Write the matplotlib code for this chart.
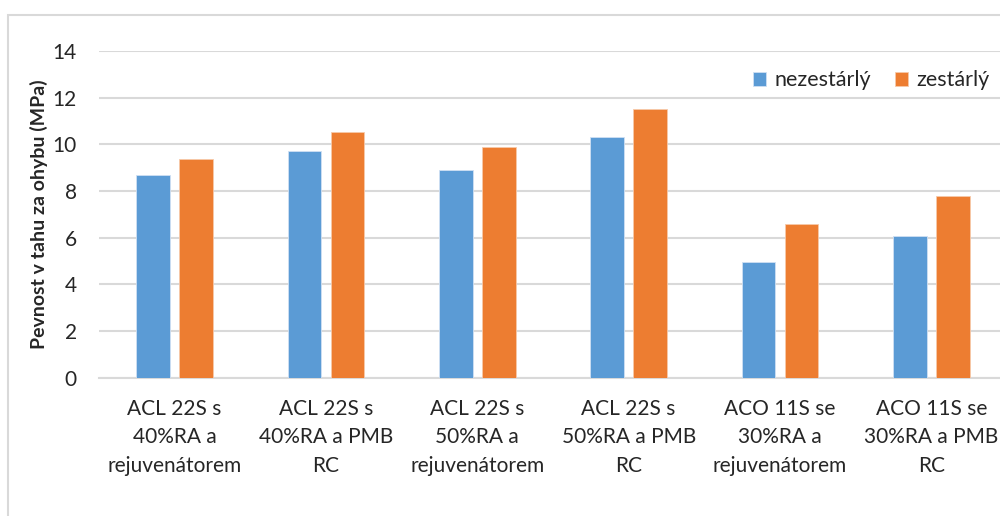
import numpy as np
import matplotlib
matplotlib.use("Agg")
import matplotlib.pyplot as plt
from matplotlib.patches import Rectangle

categories = [
    "ACL 22S s\n40%RA a\nrejuvenátorem",
    "ACL 22S s\n40%RA a PMB\nRC",
    "ACL 22S s\n50%RA a\nrejuvenátorem",
    "ACL 22S s\n50%RA a PMB\nRC",
    "ACO 11S se\n30%RA a\nrejuvenátorem",
    "ACO 11S se\n30%RA a PMB\nRC",
]
nezestarly = [8.67, 9.72, 8.90, 10.30, 4.97, 6.07]
zestarly = [9.37, 10.52, 9.90, 11.52, 6.59, 7.77]
series_names = ["nezestárlý", "zestárlý"]
yticks = [0, 2, 4, 6, 8, 10, 12, 14]

BLUE = "#5b9bd5"
ORANGE = "#ed7d31"
GRID = "#d9d9d9"
TXT = "#262626"

plt.rcParams["font.family"] = ["Lato", "DejaVu Sans"]

fig = plt.figure(figsize=(10, 5.16), dpi=100)
# outer chart frame (runs off the right and bottom edges)
fig.patches.append(Rectangle((0.008, -0.05), 1.2, 1.021,
                             transform=fig.transFigure, fill=False,
                             ec=GRID, lw=1.5))

ax = fig.add_axes([0.099, 0.268, 0.908, 0.633])
x = np.arange(len(categories))
w = 0.223
off = 0.142
ax.bar(x - off, nezestarly, w, color=BLUE, edgecolor="#cfe0f3", lw=0.6,
       label=series_names[0], zorder=3)
ax.bar(x + off, zestarly, w, color=ORANGE, edgecolor="#f7c9aa", lw=0.6,
       label=series_names[1], zorder=3)

ax.set_xlim(-0.5, len(categories) - 0.5)
ax.set_ylim(0, 14)
ax.set_yticks(yticks)
ax.yaxis.grid(True, color=GRID, lw=1.5, zorder=0)
for s in ["top", "right", "left"]:
    ax.spines[s].set_visible(False)
ax.spines["bottom"].set_color(GRID)
ax.spines["bottom"].set_linewidth(1.5)
ax.tick_params(axis="both", length=0, labelsize=15, labelcolor=TXT)
ax.tick_params(axis="y", pad=16)
ax.tick_params(axis="x", pad=15)
ax.set_xticks(x)
ax.set_xticklabels(categories, linespacing=1.55)

ax.set_ylabel("Pevnost v tahu za ohybu (MPa)", fontsize=14, fontweight="bold",
              color=TXT, labelpad=3)

ax.legend(loc="upper right", bbox_to_anchor=(1.002, 1.0), ncol=2, frameon=False,
          fontsize=15.5, handlelength=0.6, handleheight=0.6, handletextpad=0.4,
          columnspacing=1.1, labelcolor=TXT)

fig.savefig("out.png", dpi=100)
